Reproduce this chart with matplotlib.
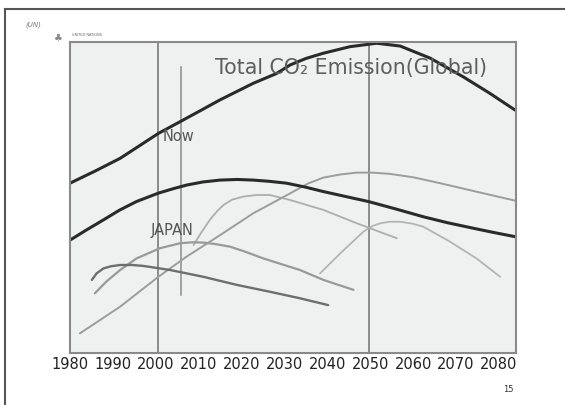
import matplotlib
matplotlib.use("Agg")
import matplotlib.pyplot as plt
from matplotlib.lines import Line2D

# year ticks
years = [1980, 1990, 2000, 2010, 2020, 2030, 2040, 2050, 2060, 2070, 2080]

# global total (thick)
global_x = [1980, 1986, 1991.7, 2000.6, 2005.7, 2010.5, 2015, 2022.7, 2028.2, 2031.3, 2035,
            2039.1, 2045.3, 2051.5, 2057, 2064, 2071.7, 2077.9, 2083.8]
global_y = [54.6, 58.6, 62.6, 70.6, 74.4, 78.0, 81.4, 86.7, 89.9, 92.6, 94.7,
            96.4, 98.5, 99.6, 98.7, 94.8, 88.8, 83.5, 78.1]

# japan (thick)
japan_x = [1980, 1984, 1987.8, 1991.5, 1995.5, 2000.6, 2004, 2007.2, 2011, 2015, 2019,
           2022.7, 2026.5, 2030.5, 2035, 2039.1, 2044, 2049.6, 2056, 2062.4, 2068,
           2074.1, 2079, 2083.8]
japan_y = [36.3, 39.7, 42.8, 45.9, 48.7, 51.4, 52.8, 54.0, 55.0, 55.6, 55.8,
           55.6, 55.2, 54.6, 53.3, 51.9, 50.4, 48.7, 46.3, 43.8, 41.9,
           40.1, 38.7, 37.4]

# other countries (grey)
c1_x = [1985.1, 1986.2, 1987.8, 1989.6, 1991.7, 1994.5, 1997.1, 2003.3, 2011.1, 2018.9,
        2026.6, 2033.6, 2040.2]
c1_y = [23.5, 25.6, 27.2, 27.9, 28.3, 28.3, 28.0, 26.7, 24.5, 21.9,
        19.7, 17.6, 15.4]

c2_x = [1985.8, 1988.5, 1991.7, 1995.5, 2001, 2005.7, 2008.5, 2011.1, 2014, 2017.3,
        2021, 2025.1, 2033.6, 2039.1, 2046.1]
c2_y = [19.2, 23.0, 26.7, 30.4, 33.7, 35.3, 35.6, 35.5, 35.0, 34.2,
        32.5, 30.4, 26.7, 23.5, 20.3]

c3_x = [1982.3, 1991.7, 2000.6, 2007.2, 2015, 2022.7, 2031.3, 2035.5, 2039.1,
        2043, 2046.9, 2050.5, 2054.6, 2060, 2066.3, 2075, 2083.8]
c3_y = [6.3, 14.9, 24.5, 31.0, 37.9, 44.9, 51.3, 54.5, 56.4,
        57.4, 58.0, 58.0, 57.6, 56.5, 54.6, 51.8, 49.0]

c4_x = [2008.8, 2010.5, 2012.6, 2014.3, 2015.8, 2017.8, 2020.4, 2023.5, 2026.6, 2031.3,
        2039.1, 2046.9, 2056.2]
c4_y = [34.7, 38.5, 42.8, 45.6, 47.6, 49.3, 50.3, 50.8, 50.8, 49.2,
        46.0, 41.7, 36.9]

c5_x = [2038.3, 2043, 2048.4, 2050.5, 2052.3, 2054.5, 2057, 2059.8, 2062.4, 2068.6,
        2074.8, 2080.3]
c5_y = [25.6, 32.0, 39.0, 40.8, 41.7, 42.2, 42.2, 41.6, 40.6, 35.8,
        30.4, 24.5]

fig = plt.figure(figsize=(5.65, 4.05), dpi=100)
ax = fig.add_axes([70 / 565, 1 - 353 / 405, 446 / 565, 311 / 405])
ax.set_facecolor("#eef1ef")

# thin reference lines
ax.axvline(2000.6, color="#7a7a7a", lw=1.2)
ax.axvline(2049.7, color="#7a7a7a", lw=1.2)
ax.plot([2005.9, 2005.9], [18.6, 92.1], color="#8a8a8a", lw=1.1)

kw = dict(solid_capstyle="round", solid_joinstyle="round")
ax.plot(c5_x, c5_y, color="#b4b4b4", lw=1.3, **kw)
ax.plot(c4_x, c4_y, color="#adadad", lw=1.3, **kw)
ax.plot(c3_x, c3_y, color="#9c9c9c", lw=1.4, **kw)
ax.plot(c2_x, c2_y, color="#999999", lw=1.6, **kw)
ax.plot(c1_x, c1_y, color="#6e6e6e", lw=1.7, **kw)

ax.plot(japan_x, japan_y, color="#2a2a2a", lw=2.2, **kw)
ax.plot(global_x, global_y, color="#2a2a2a", lw=2.2, **kw)

ax.text(2013.8, 91.6, "Total CO₂ Emission(Global)", fontsize=14.8,
        color="#5e5e5e", va="center", ha="left")
ax.text(2001.5, 69.5, "Now", fontsize=10.5, color="#555555", va="center")
ax.text(1998.7, 39.5, "JAPAN", fontsize=10.5, color="#555555", va="center")

ax.set_xlim(1980, 2084)
ax.set_ylim(0, 100)
ax.set_xticks(years)
ax.set_xticklabels([str(y) for y in years], fontsize=10.5, color="#222222")
ax.tick_params(axis="x", length=0, pad=3)
ax.set_yticks([])
for s in ax.spines.values():
    s.set_color("#8a8a8a")
    s.set_linewidth(1.5)

# slide frame, logo and page number
fig.add_artist(Line2D([5 / 565, 1], [1 - 9 / 405, 1 - 9 / 405], color="#555555", lw=1.5))
fig.add_artist(Line2D([5 / 565, 5 / 565], [0, 1 - 9 / 405], color="#555555", lw=1.5))
fig.text(33 / 565, 1 - 25 / 405, "(UN)", fontsize=5, color="#777777",
         ha="center", va="center", style="italic")
fig.text(58 / 565, 1 - 38 / 405, "♣", fontsize=7, color="#888888", ha="center", va="center")
fig.text(72 / 565, 1 - 35 / 405, "UNITED NATIONS", fontsize=2.5, color="#666666", va="center")
fig.text(508 / 565, 1 - 389 / 405, "15", fontsize=6, color="#333333", ha="center", va="center")

fig.savefig("out.png", dpi=100)
